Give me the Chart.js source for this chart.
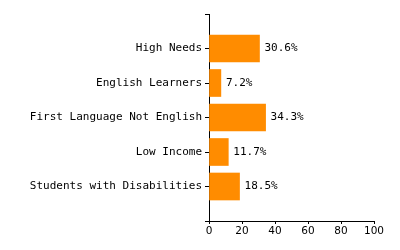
<!DOCTYPE html>
<html>
<head>
<meta charset="utf-8">
<script src="https://cdn.jsdelivr.net/npm/chart.js@4"></script>
<style>
  body { margin: 0; background: #fff; }
</style>
</head>
<body>
<canvas id="chart" width="400" height="250"></canvas>
<script>
const categories = ['High Needs', 'English Learners', 'First Language Not English', 'Low Income', 'Students with Disabilities'];
const values = [30.6, 7.2, 34.3, 11.7, 18.5];
const xTicks = [0, 20, 40, 60, 80, 100];

const monoFont = { family: '"DejaVu Sans Mono", monospace', size: 11 };

// blank slots at both ends so the categories sit between the axis ends
const labels = [''].concat(categories, ['']);
const data = [null].concat(values, [null]);

// draws "30.6%" next to each bar
const valueLabels = {
    id: 'valueLabels',
    afterDatasetsDraw(chart) {
        const ctx = chart.ctx;
        const meta = chart.getDatasetMeta(0);
        ctx.save();
        ctx.font = '11px "DejaVu Sans Mono", monospace';
        ctx.fillStyle = '#000';
        ctx.textAlign = 'left';
        ctx.textBaseline = 'middle';
        meta.data.forEach((bar, i) => {
            if (data[i] === null) return;
            ctx.fillText(data[i].toFixed(1) + '%', bar.x + 5, bar.y);
        });
        ctx.restore();
    }
};

new Chart(document.getElementById('chart'), {
    type: 'bar',
    data: {
        labels: labels,
        datasets: [{
            data: data,
            backgroundColor: '#FF8C00',
            borderWidth: 0,
            barThickness: 27
        }]
    },
    options: {
        indexAxis: 'y',
        responsive: false,
        animation: false,
        layout: { padding: { top: 14, right: 26, left: 0, bottom: 0 } },
        plugins: {
            legend: { display: false },
            tooltip: { enabled: false }
        },
        scales: {
            x: {
                min: 0,
                max: 100,
                afterBuildTicks: (scale) => { scale.ticks = xTicks.map((v) => ({ value: v })); },
                afterFit: (scale) => { scale.height = 29; },
                border: { display: true, color: '#000', width: 1 },
                grid: { display: true, drawOnChartArea: false, drawTicks: true, tickLength: 3, color: '#000' },
                ticks: { color: '#000', padding: 1, font: { family: '"DejaVu Sans", sans-serif', size: 10.5 } }
            },
            y: {
                offset: false,
                afterFit: (scale) => { scale.width = 209; },
                border: { display: true, color: '#000', width: 1 },
                grid: { display: true, offset: false, drawOnChartArea: false, drawTicks: true, tickLength: 4, color: '#000' },
                ticks: { color: '#000', padding: 3, autoSkip: false, font: monoFont }
            }
        }
    },
    plugins: [valueLabels]
});
</script>
</body>
</html>
